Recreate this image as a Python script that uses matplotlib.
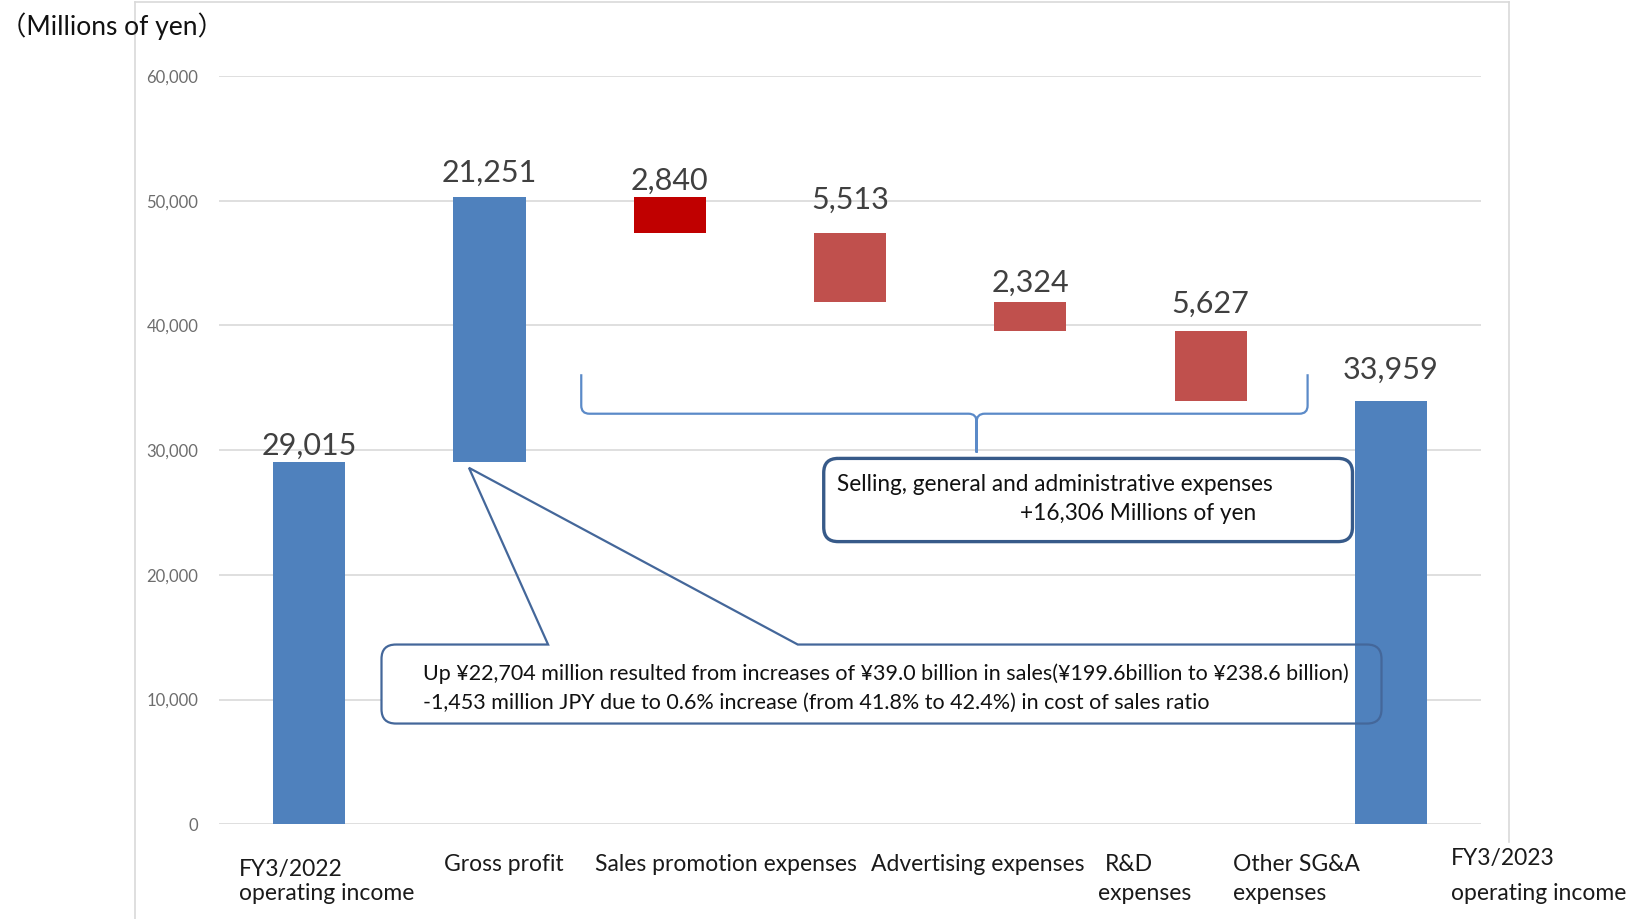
import matplotlib.pyplot as plt
from matplotlib.path import Path
from matplotlib.patches import PathPatch
from matplotlib.lines import Line2D
from matplotlib.ticker import FuncFormatter

plt.rcParams['font.family'] = ['Lato', 'Noto Sans CJK JP', 'DejaVu Sans']

# operating income bridge, millions of yen
steps = ["FY3/2022 operating income", "Gross profit", "Sales promotion expenses",
         "Advertising expenses", "R&D expenses", "Other SG&A expenses",
         "FY3/2023 operating income"]
changes = [29015, 21251, -2840, -5513, -2324, -5627, 33959]
is_total = [True, False, False, False, False, False, True]
bar_colors = ["#4F81BD", "#4F81BD", "#C00000", "#C0504D", "#C0504D", "#C0504D", "#4F81BD"]

# how far each value label sits above its bar (points)
label_offsets = [12, 18, 12, 24, 13.5, 19.5, 22.5]

# category text under the axis: (text, x in categories, y in axes fraction, ha)
label_lines = [
    ("FY3/2022", -0.39, -0.060, "left"),
    ("operating income", -0.39, -0.093, "left"),
    ("Gross profit", 1.079, -0.054, "center"),
    ("Sales promotion expenses", 2.314, -0.054, "center"),
    ("Advertising expenses", 3.708, -0.054, "center"),
    ("R&D", 4.413, -0.054, "left"),
    ("expenses", 4.378, -0.093, "left"),
    ("Other SG&A", 5.122, -0.054, "left"),
    ("expenses", 5.122, -0.093, "left"),
    ("FY3/2023", 6.334, -0.046, "left"),
    ("operating income", 6.334, -0.093, "left"),
]

gp_note = ["Up ¥22,704 million resulted from increases of ¥39.0 billion in sales(¥199.6billion to ¥238.6 billion)",
           "-1,453 million JPY due to 0.6% increase (from 41.8% to 42.4%) in cost of sales ratio"]
sga_note = ["Selling, general and administrative expenses", "+16,306 Millions of yen"]

# waterfall bottoms / heights
bottoms, heights = [], []
running = 0
for v, tot in zip(changes, is_total):
    if tot:
        bottoms.append(0)
        heights.append(v)
        running = v
    elif v >= 0:
        bottoms.append(running)
        heights.append(v)
        running += v
    else:
        running += v
        bottoms.append(running)
        heights.append(-v)

fig = plt.figure(figsize=(16.3, 9.19), dpi=100)
ax = fig.add_axes([0.1344, 0.1030, 0.7742, 0.8144])

x = list(range(len(steps)))
ax.bar(x, heights, bottom=bottoms, width=0.40, color=bar_colors, zorder=3)

for i, v in enumerate(changes):
    ax.annotate(f"{abs(v):,}", (i, bottoms[i] + heights[i]), xytext=(0, label_offsets[i]),
                textcoords="offset points", ha="center", va="center",
                fontsize=22, color="#404040", zorder=5)

ax.set_xlim(-0.5, 6.5)
ax.set_ylim(0, 60000)
ax.set_yticks(range(0, 60001, 10000))
ax.yaxis.set_major_formatter(FuncFormatter(lambda v, p: f"{int(v):,}"))
ax.set_xticks([])
ax.tick_params(axis="y", length=0, pad=15, labelsize=12, labelcolor="#6d6d6d")
for s in ax.spines.values():
    s.set_visible(False)
ax.grid(axis="y", color="#D9D9D9", lw=1.2)
ax.set_axisbelow(True)

xt = ax.get_xaxis_transform()
for txt, lx, ly, ha in label_lines:
    ax.text(lx, ly, txt, transform=xt, ha=ha, va="center", fontsize=16.5,
            color="#1a1a1a", clip_on=False)


def rounded_box(x0, x1, y0, y1, rx, ry, gap=None, tip=None):
    verts = [(x0 + rx, y1)]
    codes = [Path.MOVETO]
    if gap is not None:
        verts += [(gap[0], y1), tip, (gap[1], y1)]
        codes += [Path.LINETO] * 3
    verts += [(x1 - rx, y1), (x1, y1), (x1, y1 - ry),
              (x1, y0 + ry), (x1, y0), (x1 - rx, y0),
              (x0 + rx, y0), (x0, y0), (x0, y0 + ry),
              (x0, y1 - ry), (x0, y1), (x0 + rx, y1)]
    codes += [Path.LINETO, Path.CURVE3, Path.CURVE3] * 4
    return Path(verts, codes)


rx, ry = 0.08, 1150

# gross profit callout with its pointer
box = (0.401, 5.948, 8081, 14415)
ax.add_patch(PathPatch(rounded_box(*box, rx, ry), fc="white", ec="none", zorder=2))
ax.add_patch(PathPatch(rounded_box(*box, rx, ry, gap=(1.325, 2.710), tip=(0.886, 28583)),
                       fc="none", ec="#44679A", lw=1.6, zorder=4))
for k, line in enumerate(gp_note):
    ax.text(0.632, 12082 - k * 2333, line, ha="left", va="center", fontsize=15.5,
            color="#111111", zorder=5)

# SG&A callout
box2 = (2.854, 5.787, 22666, 29336)
ax.add_patch(PathPatch(rounded_box(*box2, rx, ry), fc="white", ec="#375A89",
                       lw=2.4, zorder=4))
ax.text(2.929, 27251, sga_note[0], ha="left", va="center", fontsize=16.3, color="#111111", zorder=5)
ax.text(3.945, 24918, sga_note[1], ha="left", va="center", fontsize=16.3, color="#111111", zorder=5)

# curly brace over the SG&A items
bl, br, bm = 1.509, 5.538, 3.702
top, mid, tip = 36086, 32919, 29800
cx, cy = 0.045, 650
brace = Path(
    [(bl, top), (bl, mid + cy), (bl, mid), (bl + cx, mid),
     (bm - cx, mid), (bm, mid), (bm, mid - cy), (bm, tip),
     (bm, mid - cy), (bm, mid), (bm + cx, mid),
     (br - cx, mid), (br, mid), (br, mid + cy), (br, top)],
    [Path.MOVETO, Path.LINETO, Path.CURVE3, Path.CURVE3,
     Path.LINETO, Path.CURVE3, Path.CURVE3, Path.LINETO,
     Path.LINETO, Path.CURVE3, Path.CURVE3,
     Path.LINETO, Path.CURVE3, Path.CURVE3, Path.LINETO])
ax.add_patch(PathPatch(brace, fc="none", ec="#5B8AC8", lw=1.6, zorder=4))

fig.text(0.0, 1 - 26 / 919, "（Millions of yen）", ha="left", va="center",
         fontsize=19, color="#111111")

# outer chart frame
fl, fr, ft = 135 / 1630, 1509 / 1630, 1 - 2 / 919
fig.add_artist(Line2D([fl, fl], [0, ft], color="#D9D9D9", lw=1.2))
fig.add_artist(Line2D([fl, fr], [ft, ft], color="#D9D9D9", lw=1.2))
fig.add_artist(Line2D([fr, fr], [ft, 1 - 842 / 919], color="#D9D9D9", lw=1.2))

fig.savefig("out.png", dpi=100, facecolor="white")
